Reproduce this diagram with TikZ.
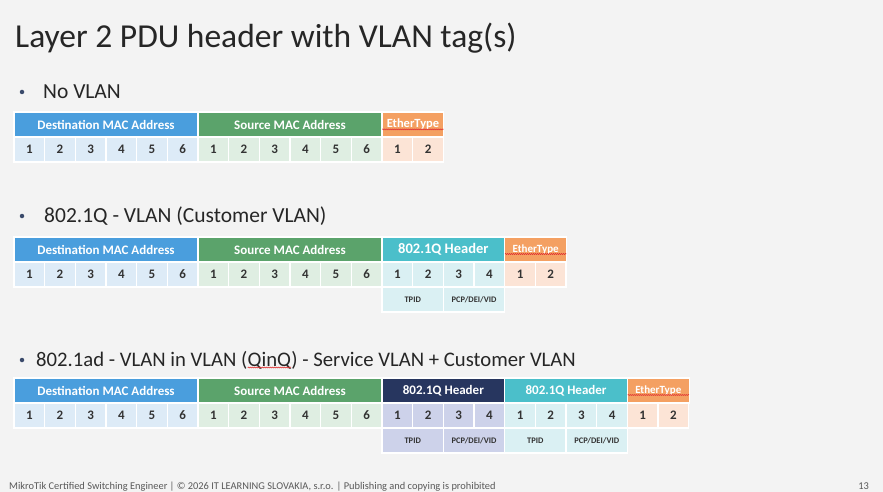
\documentclass[tikz,border=0pt]{standalone}
\usepackage{fontspec}
\setmainfont{Carlito}
\usetikzlibrary{positioning,decorations.pathmorphing}
\definecolor{cPage}{HTML}{F3F3F3}
\definecolor{cInk}{HTML}{262626}
\definecolor{cNum}{HTML}{333333}
\definecolor{cFoot}{HTML}{595959}
\definecolor{cDot}{HTML}{3A4A6B}
\definecolor{cDst}{HTML}{4A9EDD}
\definecolor{cDstBg}{HTML}{DDEBF7}
\definecolor{cSrc}{HTML}{5BA36B}
\definecolor{cSrcBg}{HTML}{DFEEE2}
\definecolor{cEth}{HTML}{F4A062}
\definecolor{cEthBg}{HTML}{FCE4D6}
\definecolor{cTag}{HTML}{4BBFCA}
\definecolor{cTagBg}{HTML}{DAF0F3}
\definecolor{cSv}{HTML}{27365F}
\definecolor{cSvBg}{HTML}{CDD2EA}
\definecolor{cSpell}{HTML}{E03030}
\newcommand{\cw}{30.67}
\newcommand{\wavy}[1]{\tikz[baseline=(w.base)]{\node[inner sep=0pt,outer sep=0pt](w){#1};
  \draw[cSpell,line width=0.5pt,decorate,decoration={snake,amplitude=0.6pt,segment length=2pt}]
  ([yshift=-1.5pt]w.base west) -- ([yshift=-1.5pt]w.base east);}}

\begin{document}
\begin{tikzpicture}[
  x=1pt, y=-1pt,
  head/.style={rectangle, draw=white, line width=1.2pt, fill=#1, text=white,
               font=\bfseries\fontsize{13}{15}\selectfont, minimum height=25pt,
               inner sep=0pt, outer sep=0pt},
  byte/.style={rectangle, draw=white, line width=1.2pt, fill=#1, text=cNum,
               font=\bfseries\fontsize{13}{15}\selectfont, minimum width=\cw pt,
               minimum height=25pt, inner sep=0pt, outer sep=0pt, anchor=north west},
  field/.style={rectangle, draw=white, line width=1.2pt, fill=#1, text=cNum,
                font=\bfseries\fontsize{8.5}{10}\selectfont, minimum width=2*\cw pt,
                minimum height=25pt, inner sep=0pt, outer sep=0pt, anchor=north west},
  item/.style={anchor=base west, text=cInk, font=\fontsize{21.5}{25}\selectfont, inner sep=0pt},
  dot/.style={circle, fill=cDot, inner sep=0pt, minimum size=4.5pt},
]
\useasboundingbox[fill=cPage] (0,0) rectangle (883,492);

% ---------- Title ----------
\node[anchor=base west, text=cInk, font=\fontsize{33.5}{38}\selectfont, inner sep=0pt]
  (title) at (15,48) {Layer 2 PDU header with VLAN tag(s)};

% ---------- No VLAN ----------
\node[dot] (dotA) at (22,92) {};
\node[item] (itemA) at (43,99) {No VLAN};

\node[head=cDst, minimum width=6*\cw pt, anchor=north west] (dstA) at (14,112) {Destination MAC Address};
\node[head=cSrc, minimum width=6*\cw pt, right=0pt of dstA] (srcA) {Source MAC Address};
\node[head=cEth, minimum width=2*\cw pt, right=0pt of srcA, font=\bfseries\fontsize{12.5}{14}\selectfont] (ethA) {\wavy{EtherType}};
\foreach \i in {1,...,6} {
  \node[byte=cDstBg] (dA\i) at ({14+(\i-1)*\cw},137) {\i};
  \node[byte=cSrcBg] (sA\i) at ({14+(\i+5)*\cw},137) {\i};
}
\foreach \i in {1,2}
  \node[byte=cEthBg] (eA\i) at ({14+(\i+11)*\cw},137) {\i};

% ---------- 802.1Q ----------
\node[dot] (dotB) at (22,216) {};
\node[item] (itemB) at (44,222) {802.1Q - VLAN (Customer VLAN)};

\node[head=cDst, minimum width=6*\cw pt, anchor=north west] (dstB) at (14,237) {Destination MAC Address};
\node[head=cSrc, minimum width=6*\cw pt, right=0pt of dstB] (srcB) {Source MAC Address};
\node[head=cTag, minimum width=4*\cw pt, right=0pt of srcB, font=\bfseries\fontsize{14.5}{17}\selectfont] (tagB) {802.1Q Header};
\node[head=cEth, minimum width=2*\cw pt, right=0pt of tagB, font=\bfseries\fontsize{11}{13}\selectfont] (ethB) {\wavy{EtherType}};
\foreach \i in {1,...,6} {
  \node[byte=cDstBg] (dB\i) at ({14+(\i-1)*\cw},262) {\i};
  \node[byte=cSrcBg] (sB\i) at ({14+(\i+5)*\cw},262) {\i};
}
\foreach \i in {1,...,4}
  \node[byte=cTagBg] (tB\i) at ({14+(\i+11)*\cw},262) {\i};
\foreach \i in {1,2}
  \node[byte=cEthBg] (eB\i) at ({14+(\i+15)*\cw},262) {\i};
\node[field=cTagBg] (tpidB) at ({14+12*\cw},287) {TPID};
\node[field=cTagBg, right=0pt of tpidB] (tciB) {PCP/DEI/VID};

% ---------- 802.1ad ----------
\node[dot] (dotC) at (22,360) {};
\node[item, font=\fontsize{20.7}{24}\selectfont] (itemC) at (36,366)
  {802.1ad - VLAN in VLAN (\wavy{QinQ}) - Service VLAN + Customer VLAN};

\node[head=cDst, minimum width=6*\cw pt, anchor=north west] (dstC) at (14,378) {Destination MAC Address};
\node[head=cSrc, minimum width=6*\cw pt, right=0pt of dstC] (srcC) {Source MAC Address};
\node[head=cSv, minimum width=4*\cw pt, right=0pt of srcC] (svC) {802.1Q Header};
\node[head=cTag, minimum width=4*\cw pt, right=0pt of svC] (tagC) {802.1Q Header};
\node[head=cEth, minimum width=2*\cw pt, right=0pt of tagC, font=\bfseries\fontsize{11}{13}\selectfont] (ethC) {\wavy{EtherType}};
\foreach \i in {1,...,6} {
  \node[byte=cDstBg] (dC\i) at ({14+(\i-1)*\cw},403) {\i};
  \node[byte=cSrcBg] (sC\i) at ({14+(\i+5)*\cw},403) {\i};
}
\foreach \i in {1,...,4} {
  \node[byte=cSvBg] (vC\i) at ({14+(\i+11)*\cw},403) {\i};
  \node[byte=cTagBg] (tC\i) at ({14+(\i+15)*\cw},403) {\i};
}
\foreach \i in {1,2}
  \node[byte=cEthBg] (eC\i) at ({14+(\i+19)*\cw},403) {\i};
\node[field=cSvBg] (tpidC) at ({14+12*\cw},428) {TPID};
\node[field=cSvBg, right=0pt of tpidC] (tciC) {PCP/DEI/VID};
\node[field=cTagBg, right=0pt of tciC] (tpidD) {TPID};
\node[field=cTagBg, right=0pt of tpidD] (tciD) {PCP/DEI/VID};

% ---------- Footer ----------
\node[anchor=base west, text=cFoot, font=\fontsize{10.4}{12}\selectfont, inner sep=0pt] (foot) at (9,489)
  {MikroTik Certified Switching Engineer | © 2026 IT LEARNING SLOVAKIA, s.r.o. | Publishing and copying is prohibited};
\node[anchor=base east, text=cFoot, font=\fontsize{10.4}{12}\selectfont, inner sep=0pt] (page) at (869,489) {13};

\end{tikzpicture}
\end{document}
